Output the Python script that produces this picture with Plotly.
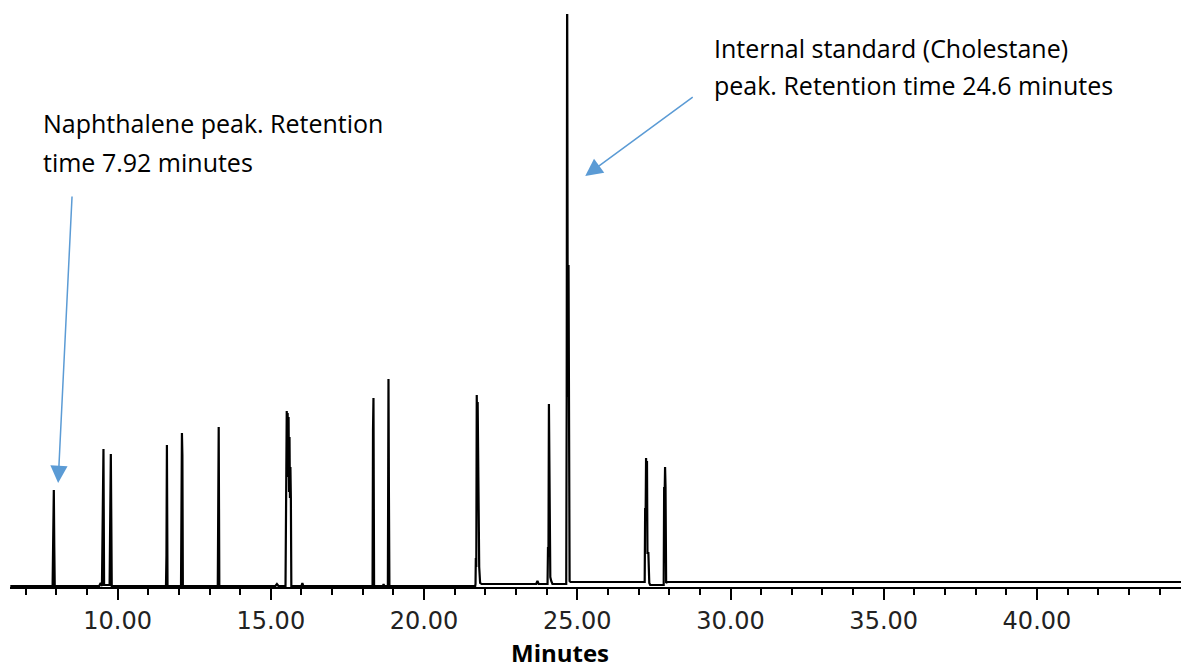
import plotly.graph_objects as go

# Retention time (minutes) and detector response (arbitrary units)
rt_min = [
    6.50, 7.88, 7.90, 7.92, 7.935, 7.95,
    9.40, 9.45, 9.49, 9.52, 9.54, 9.56, 9.74, 9.76, 9.78, 9.795, 9.81,
    11.58, 11.595, 11.61, 11.63, 12.07, 12.085, 12.10, 12.115, 12.13,
    13.27, 13.285, 13.30, 13.32,
    15.15, 15.20, 15.25,
    15.48, 15.49, 15.505, 15.52, 15.535, 15.55, 15.565, 15.58, 15.595, 15.61, 15.625, 15.64, 15.655, 15.67,
    16.00, 16.03, 16.06,
    18.32, 18.335, 18.35, 18.37, 18.66, 18.68, 18.70, 18.82, 18.84, 18.855, 18.87,
    21.67, 21.68, 21.69, 21.705, 21.72, 21.735, 21.75, 21.765, 21.78, 21.80, 21.83, 21.88,
    23.66, 23.70, 23.74,
    24.03, 24.045, 24.06, 24.075, 24.09, 24.105, 24.12, 24.15, 24.19,
    24.62, 24.64, 24.655, 24.67, 24.685, 24.70, 24.715, 24.73, 24.75, 24.78,
    27.20, 27.215, 27.23, 27.245, 27.26, 27.275, 27.29, 27.32, 27.35, 27.38,
    27.82, 27.835, 27.85, 27.865, 27.88, 27.90, 27.93,
    44.70,
]
response = [
    1, 1, 50, 97, 40, 1,
    1, 4, 1, 60, 138, 2, 2, 69, 133, 69, 1,
    1, 32, 142, 1, 1, 132, 154, 132, 1,
    1, 65, 160, 1,
    1, 3, 1,
    1, 107, 100, 176, 120, 174, 110, 170, 95, 150, 89, 120, 89, 1,
    1, 4, 1,
    1, 157, 189, 1, 1, 3, 1, 1, 208, 89, 1,
    1, 3, 29, 20, 192, 150, 185, 125, 120, 20, 4, 3,
    3, 6, 3,
    3, 40, 30, 183, 115, 110, 10, 6, 3,
    3, 3, 190, 620, 322, 190, 322, 79, 6, 5,
    5, 79, 70, 129, 100, 126, 34, 34, 4, 2,
    2, 100, 90, 120, 100, 4, 5,
    5,
]

x_range = [6.49, 44.70]
y_range = [0, 573]

fig = go.Figure()
fig.add_trace(go.Scatter(
    x=rt_min, y=response, mode="lines",
    line=dict(color="black", width=2.2),
    hoverinfo="skip", showlegend=False,
))

arrow_blue = "#5B9BD5"
txt_font = dict(family="Open Sans", size=25, color="black")

fig.update_layout(
    width=1181, height=671,
    margin=dict(l=10, r=0, t=14, b=84),
    paper_bgcolor="white", plot_bgcolor="white",
    xaxis=dict(
        range=x_range, showgrid=False, zeroline=False,
        showline=True, linecolor="black", linewidth=2,
        ticks="outside", ticklen=11, tickwidth=1.5, tickcolor="black",
        tick0=0, dtick=5, tickformat=".2f",
        tickfont=dict(family="DejaVu Sans", size=24, color="#222222"),
        minor=dict(ticks="outside", ticklen=6, tickwidth=1.5, tickcolor="black",
                   tick0=0, dtick=1, showgrid=False),
    ),
    yaxis=dict(range=y_range, visible=False, showgrid=False, zeroline=False),
    annotations=[
        dict(text="Naphthalene peak. Retention", xref="paper", yref="paper",
             x=0.0265, y=0.8098, xanchor="left", yanchor="middle",
             showarrow=False, font=txt_font),
        dict(text="time 7.92 minutes", xref="paper", yref="paper",
             x=0.0265, y=0.7424, xanchor="left", yanchor="middle",
             showarrow=False, font=txt_font),
        dict(text="Internal standard (Cholestane)", xref="paper", yref="paper",
             x=0.5995, y=0.9414, xanchor="left", yanchor="middle",
             showarrow=False, font=txt_font),
        dict(text="peak. Retention time 24.6 minutes", xref="paper", yref="paper",
             x=0.5995, y=0.8761, xanchor="left", yanchor="middle",
             showarrow=False, font=txt_font),
        dict(text="<b>Minutes</b>", xref="paper", yref="paper",
             x=0.4697, y=-0.1150, xanchor="center", yanchor="middle",
             showarrow=False, font=dict(family="Open Sans", size=24, color="black")),
        # arrows
        dict(text="", x=8.06, y=104, xref="x", yref="y", showarrow=True,
             ax=14, ay=-288, arrowhead=2, arrowsize=2.3, arrowwidth=1.5,
             arrowcolor=arrow_blue),
        dict(text="", x=25.26, y=411, xref="x", yref="y", showarrow=True,
             ax=109, ay=-80, arrowhead=2, arrowsize=2.3, arrowwidth=1.5,
             arrowcolor=arrow_blue),
    ],
)

fig.write_html("out.html")
